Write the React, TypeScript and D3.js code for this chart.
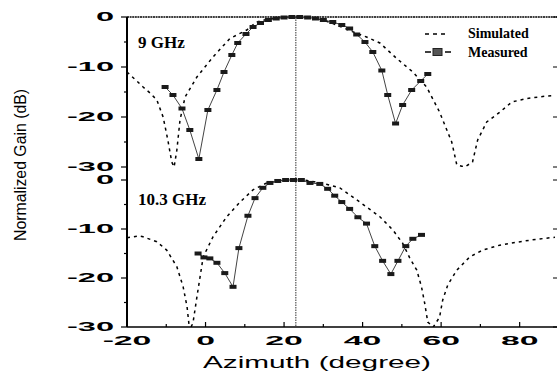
import React from 'react';
import * as d3 from 'd3';

// 9 GHz panel (top)
const simTop9: [number, number][] = [
  [-20, -11], [-19.2, -11.6], [-17.5, -12.8], [-15.9, -14], [-14, -15.3], [-12.4, -16.6],
  [-10.8, -20], [-9.6, -24.6], [-8.6, -29], [-8, -30], [-7.3, -26.6], [-6.5, -20.6],
  [-5.2, -16], [-2.2, -12], [1.9, -8], [6.2, -4.3], [10.5, -2.6], [13, -1], [16, -0.4],
  [19, -0.1], [22, 0], [25, 0], [28, -0.3], [30, -0.6], [33.4, -1.6], [37, -2.8], [41, -4],
  [44.4, -5.2], [48.7, -8.3], [52.8, -11], [56.3, -14], [59.6, -19], [62.7, -25], [64, -29.6],
  [66, -30], [68, -29], [69.3, -24.6], [71.6, -21], [75, -19], [78, -17], [81.8, -16.3],
  [86.9, -15.8], [89, -15.7],
];
const measAz9 = [-10.3, -8.3, -6, -4, -1.7, 0.6, 2.9, 4.7, 6.7, 8.2, 10.3, 12.1, 14, 16, 18, 20, 22, 24, 26, 28, 30, 32.4, 34.7, 36.7, 38.5, 40.6, 42.6, 44.9, 46.4, 48.4, 50.2, 52.5, 54.8, 56.6];
const measDb9 = [-14, -15.6, -18.3, -22.6, -28.4, -18.6, -14.6, -11, -7.6, -5.2, -3.4, -2, -1.2, -0.6, -0.3, -0.1, 0, 0, -0.1, -0.3, -0.6, -1, -1.6, -2.3, -3.5, -5, -7, -10.7, -15.6, -21.3, -17.6, -14.6, -12.8, -11.4];

// 10.3 GHz panel (bottom)
const simBot10: [number, number][] = [
  [-20, -11.8], [-17, -11.4], [-15.9, -11.6], [-12.4, -12.6], [-9.9, -14.3], [-7.3, -17.7],
  [-5.7, -21.8], [-4.7, -25.9], [-4.2, -29.6], [-3.7, -30], [-3.2, -29.2], [-2.2, -23.9],
  [-1.4, -19.8], [-0.6, -15.7], [1.9, -11.6], [5.4, -7.5], [8.8, -4.5], [12.1, -2], [15.6, -0.6],
  [19, -0.1], [22, 0], [25, 0], [28, -0.4], [31, -0.9], [34.2, -1.6], [39.3, -4.5], [44.4, -7.5],
  [47.7, -10.2], [50.2, -12.9], [52, -15.9], [53.8, -18.4], [55, -21.8], [55.8, -25.1],
  [56.6, -29], [58, -30], [59.6, -28], [60.4, -24.5], [61.7, -21.4], [64, -18.4], [67.3, -15.7],
  [70.6, -14.3], [74.9, -13.3], [79.2, -12.7], [83.3, -12.2], [87.6, -11.8], [89, -11.7],
];
const measAz10 = [-1.9, -0.4, 1.1, 2.9, 4.9, 7, 8.5, 10.8, 12.6, 14.6, 16.4, 18.4, 20.4, 22.4, 24.4, 26.6, 29.1, 31.1, 32.9, 34.7, 36.7, 38.8, 41, 43.1, 45.1, 47.2, 49, 51, 52.8, 55];
const measDb10 = [-15, -15.8, -16, -16.9, -19, -21.8, -13.9, -7.3, -3.7, -1.6, -0.6, -0.2, 0, 0, 0, -0.6, -0.8, -1.8, -3.2, -4.5, -5.9, -7.6, -8.9, -13.5, -16.5, -19.2, -16.5, -13.5, -12, -11.2];

const xTicks = [-20, 0, 20, 40, 60, 80];
const yTicks = [0, -10, -20, -30];
const markerAz = 23;

const sans = '"Liberation Sans", Arial, sans-serif';
const serif = '"Liberation Serif", "Times New Roman", serif';

export default function App() {
  const W = 557, H = 374;
  const left = 127, right = 555;
  const x = d3.scaleLinear().domain([-20, 89]).range([left, right]);
  const panels = [
    { id: 'p9', y: d3.scaleLinear().domain([-30, 0]).range([167, 17]), sim: simTop9, az: measAz9, db: measDb9, label: '9 GHz', ly: 48 },
    { id: 'p10', y: d3.scaleLinear().domain([-30, 0]).range([327, 180]), sim: simBot10, az: measAz10, db: measDb10, label: '10.3 GHz', ly: 205 },
  ];
  const bottom = 327;

  return (
    <svg width={W} height={H} style={{ position: 'fixed', left: 0, top: 0, background: '#fff' }}>
      <defs>
        {panels.map(p => (
          <clipPath key={p.id} id={`clip-${p.id}`}>
            <rect x={left} y={p.y(0) - 4} width={right - left} height={p.y(-30) - p.y(0) + 4} />
          </clipPath>
        ))}
      </defs>

      {/* frame */}
      <line x1={left} x2={left} y1={17} y2={bottom} stroke="#000" strokeWidth={2} />
      <line x1={left} x2={right + 2} y1={17} y2={17} stroke="#000" strokeWidth={1.3} strokeDasharray="2,0.6" />
      <line x1={left} x2={right + 2} y1={bottom} y2={bottom} stroke="#000" strokeWidth={1.6} />
      <line x1={x(markerAz)} x2={x(markerAz)} y1={17} y2={bottom} stroke="#333" strokeWidth={1} strokeDasharray="1.5,1" />

      {/* x ticks */}
      {d3.range(-20, 90, 10).map(t => (
        <line key={`xt${t}`} x1={x(t)} x2={x(t)} y1={bottom} y2={bottom - (t % 20 === 0 ? 5 : 3)} stroke="#000" strokeWidth={1.2} />
      ))}
      {xTicks.map(t => (
        <text key={`xl${t}`} transform={`translate(${x(t)},${345}) scale(2.5,1)`} textAnchor="middle"
          fontFamily={sans} fontWeight="bold" fontSize={13.5} fill="#000">{t < 0 ? `-${Math.abs(t)}` : t}</text>
      ))}

      {panels.map(p => {
        const line = d3.line<[number, number]>().x(d => x(d[0])).y(d => p.y(d[1]));
        const meas = p.az.map((a, i) => [a, p.db[i]] as [number, number]);
        return (
          <g key={p.id}>
            {/* y ticks */}
            {d3.range(-30, 1, 5).map(t => (
              <line key={`yt${t}`} x1={left} x2={left - (t % 10 === 0 ? 6 : 3)} y1={p.y(t)} y2={p.y(t)} stroke="#000" strokeWidth={1.2} />
            ))}
            {yTicks.map(t => (
              <line key={`yr${t}`} x1={right - 2} x2={right + 2} y1={p.y(t)} y2={p.y(t)} stroke="#000" strokeWidth={1} />
            ))}
            {yTicks.map(t => (
              <text key={`yl${t}`} transform={`translate(${114},${p.y(t) + 4}) scale(2.5,1)`} textAnchor="end"
                fontFamily={sans} fontWeight="bold" fontSize={13} fill="#000">{t < 0 ? `-${Math.abs(t)}` : t}</text>
            ))}
            <g clipPath={`url(#clip-${p.id})`}>
              <path d={line(p.sim) ?? ''} fill="none" stroke="#000" strokeWidth={1.5} strokeDasharray="3,4" />
              <path d={line(meas) ?? ''} fill="none" stroke="#444" strokeWidth={1} />
              {meas.map((d, i) => (
                <rect key={i} x={x(d[0]) - 3.5} y={p.y(d[1]) - 2} width={7} height={4} fill="#1a1a1a" />
              ))}
            </g>
            <text x={138} y={p.ly} fontFamily={serif} fontWeight="bold" fontSize={17} fill="#000">{p.label}</text>
          </g>
        );
      })}

      {/* legend */}
      <line x1={425} x2={449} y1={34} y2={34} stroke="#000" strokeWidth={1.5} strokeDasharray="4,4" />
      <text x={468} y={38} fontFamily={serif} fontWeight="bold" fontSize={14} fill="#000">Simulated</text>
      <line x1={425} x2={431} y1={52} y2={52} stroke="#000" strokeWidth={1.5} />
      <line x1={445} x2={451} y1={52} y2={52} stroke="#000" strokeWidth={1.5} />
      <rect x={433} y={48.5} width={9} height={7} fill="#555" stroke="#222" strokeWidth={1} />
      <text x={468} y={57} fontFamily={serif} fontWeight="bold" fontSize={14} fill="#000">Measured</text>

      {/* axis titles */}
      <text x={203} y={368} textLength={228} lengthAdjust="spacingAndGlyphs" fontFamily={sans} fontSize={17} fill="#000">Azimuth (degree)</text>
      <text transform="translate(26,165) rotate(-90)" textAnchor="middle" textLength={152} lengthAdjust="spacingAndGlyphs"
        fontFamily={sans} fontSize={16} fill="#000">Normalized Gain (dB)</text>
    </svg>
  );
}
